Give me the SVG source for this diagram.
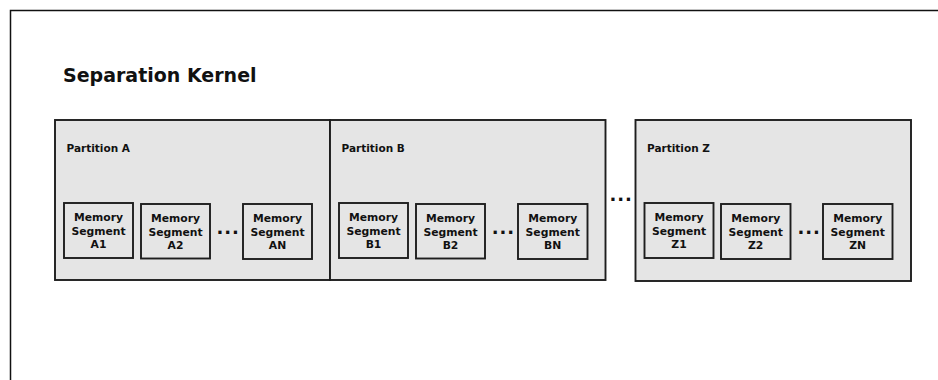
<svg xmlns="http://www.w3.org/2000/svg" width="938" height="380" viewBox="0 0 938 380">
  <style>
    .frame { fill: #ffffff; stroke: #111111; stroke-width: 1.5; }
    .part { fill: #e5e5e5; stroke: #1e1e1e; stroke-width: 1.9; }
    .seg { fill: #e5e5e5; stroke: #1e1e1e; stroke-width: 1.9; }
    text { font-family: "DejaVu Sans", "Liberation Sans", sans-serif; font-weight: bold; fill: #111111; }
    .title { font-size: 19px; }
    .plabel { font-size: 10.5px; }
    .slabel { font-size: 10.8px; text-anchor: middle; }
    .dots { font-size: 18px; letter-spacing: 1px; }
  </style>

  <!-- outer frame -->
  <rect class="frame" x="10.5" y="10.5" width="940" height="380"/>
  <text class="title" x="63" y="82">Separation Kernel</text>

  <!-- Partition A -->
  <g id="partition-a">
    <rect class="part" x="55" y="120" width="275" height="160"/>
    <text class="plabel" x="66.5" y="152">Partition A</text>
  </g>
  <g id="segment-a1">
    <rect class="seg" x="64" y="203" width="69" height="55"/>
    <text class="slabel" x="98.5" y="221">Memory</text>
    <text class="slabel" x="98.5" y="234.5">Segment</text>
    <text class="slabel" x="98.5" y="247.5">A1</text>
  </g>
  <g id="segment-a2">
    <rect class="seg" x="141" y="204" width="69" height="54.5"/>
    <text class="slabel" x="175.5" y="222">Memory</text>
    <text class="slabel" x="175.5" y="235.5">Segment</text>
    <text class="slabel" x="175.5" y="248.5">A2</text>
  </g>
  <text class="dots" x="216.4" y="233.5">...</text>
  <g id="segment-an">
    <rect class="seg" x="243" y="204" width="69" height="55"/>
    <text class="slabel" x="277.5" y="222">Memory</text>
    <text class="slabel" x="277.5" y="235.5">Segment</text>
    <text class="slabel" x="277.5" y="248.5">AN</text>
  </g>

  <!-- Partition B -->
  <g id="partition-b">
    <rect class="part" x="330" y="120" width="275.5" height="160"/>
    <text class="plabel" x="341.5" y="152">Partition B</text>
  </g>
  <g id="segment-b1">
    <rect class="seg" x="339" y="203" width="69" height="55"/>
    <text class="slabel" x="373.5" y="221">Memory</text>
    <text class="slabel" x="373.5" y="234.5">Segment</text>
    <text class="slabel" x="373.5" y="247.5">B1</text>
  </g>
  <g id="segment-b2">
    <rect class="seg" x="416" y="204" width="69" height="54.5"/>
    <text class="slabel" x="450.5" y="222">Memory</text>
    <text class="slabel" x="450.5" y="235.5">Segment</text>
    <text class="slabel" x="450.5" y="248.5">B2</text>
  </g>
  <text class="dots" x="491.7" y="233.5">...</text>
  <g id="segment-bn">
    <rect class="seg" x="518" y="204" width="69.5" height="55"/>
    <text class="slabel" x="552.7" y="222">Memory</text>
    <text class="slabel" x="552.7" y="235.5">Segment</text>
    <text class="slabel" x="552.7" y="248.5">BN</text>
  </g>

  <!-- gap between partitions -->
  <text class="dots" x="609.4" y="201.3">...</text>

  <!-- Partition Z -->
  <g id="partition-z">
    <rect class="part" x="635.5" y="120" width="275.5" height="161"/>
    <text class="plabel" x="647" y="152">Partition Z</text>
  </g>
  <g id="segment-z1">
    <rect class="seg" x="644.5" y="203" width="69" height="55"/>
    <text class="slabel" x="679" y="221">Memory</text>
    <text class="slabel" x="679" y="234.5">Segment</text>
    <text class="slabel" x="679" y="247.5">Z1</text>
  </g>
  <g id="segment-z2">
    <rect class="seg" x="721" y="204" width="69.5" height="55"/>
    <text class="slabel" x="755.7" y="222">Memory</text>
    <text class="slabel" x="755.7" y="235.5">Segment</text>
    <text class="slabel" x="755.7" y="248.5">Z2</text>
  </g>
  <text class="dots" x="797.4" y="233.5">...</text>
  <g id="segment-zn">
    <rect class="seg" x="823" y="204" width="69.5" height="55"/>
    <text class="slabel" x="857.7" y="222">Memory</text>
    <text class="slabel" x="857.7" y="235.5">Segment</text>
    <text class="slabel" x="857.7" y="248.5">ZN</text>
  </g>

  <!-- no connectors in this diagram -->
  <g id="connectors"/>
</svg>
